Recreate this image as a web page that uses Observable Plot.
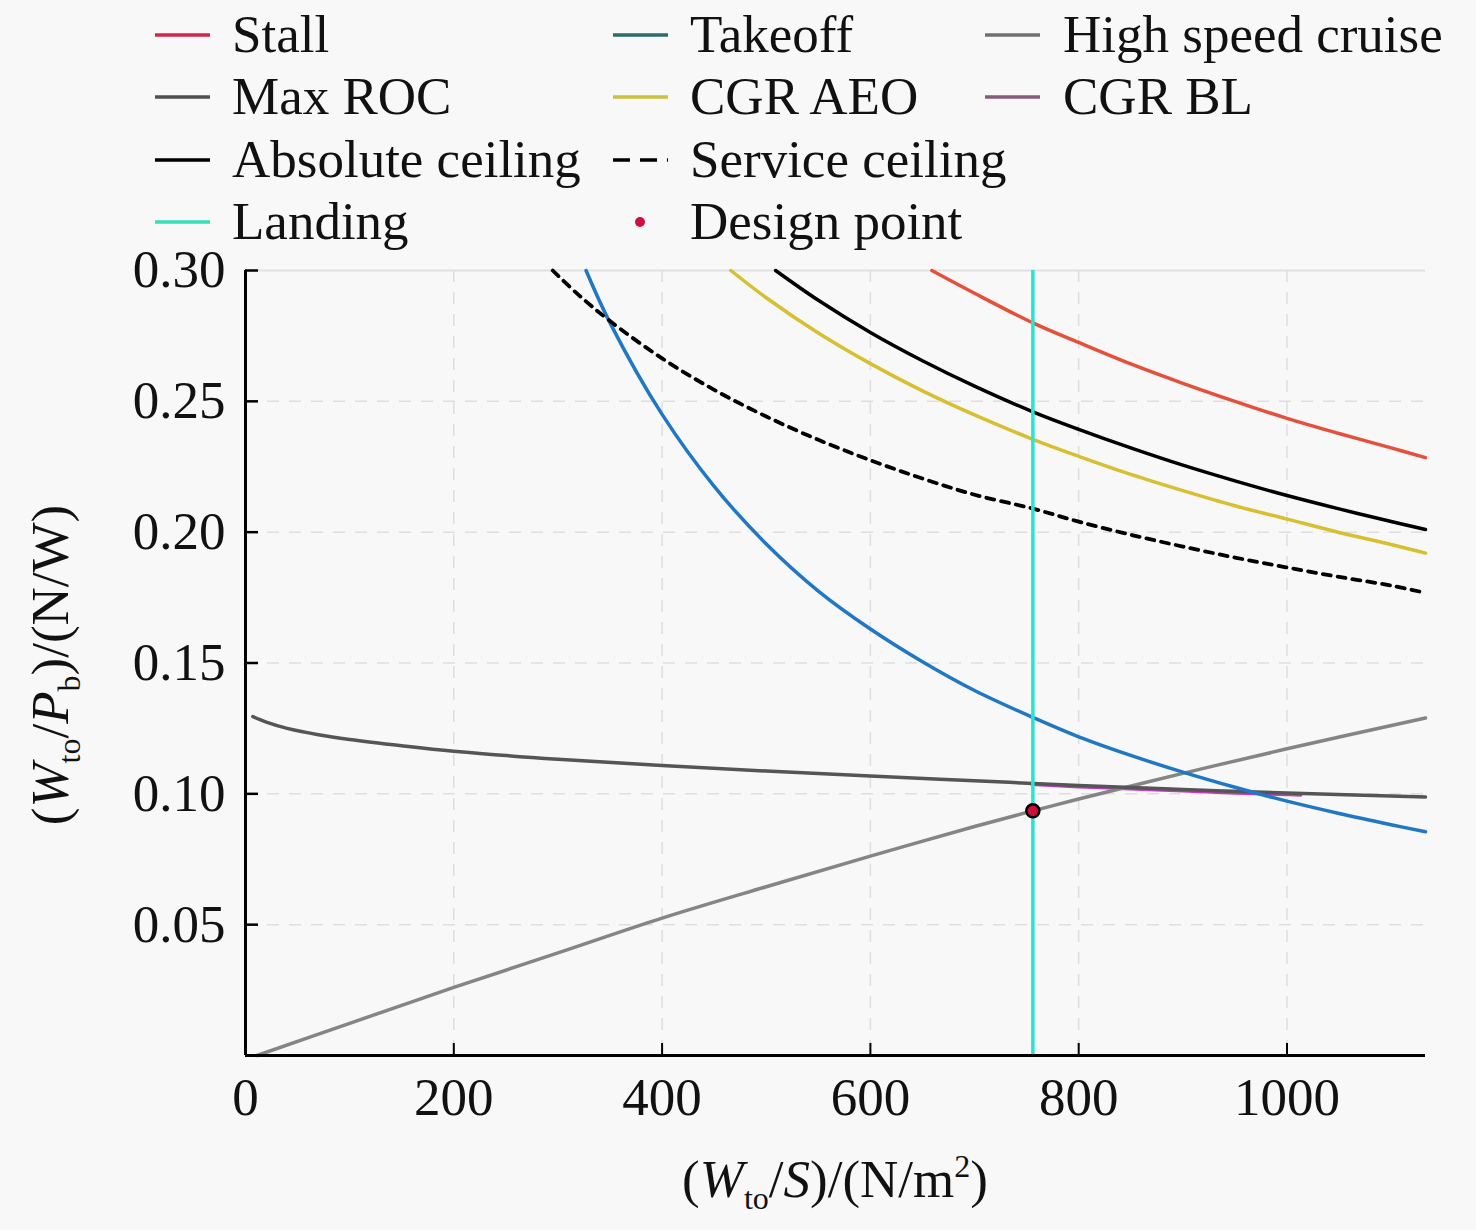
<!DOCTYPE html>
<html><head><meta charset="utf-8">
<script src="https://cdn.jsdelivr.net/npm/d3@7"></script>
<script src="https://cdn.jsdelivr.net/npm/@observablehq/plot@0.6"></script>
<style>
body{margin:0;background:#f8f8f8;width:1476px;height:1230px;overflow:hidden;font-family:"Liberation Serif","Times New Roman",serif;}
#legend{width:1476px;height:230px;display:block;overflow:visible;position:relative;z-index:2;}
#chart{position:relative;z-index:1;}
#chart svg{display:block;overflow:visible;}
</style></head><body>
<svg id="legend" width="1476" height="230"></svg>
<div id="chart"></div>
<script>
// ---- data ----
const xTicks = [0, 200, 400, 600, 800, 1000];
const yTicks = [0.05, 0.10, 0.15, 0.20, 0.25, 0.30];

const stallX = [659, 700, 756, 800, 850, 900, 950, 1000, 1050, 1100, 1133];
const stallY = [0.300, 0.2913, 0.2800, 0.2725, 0.2643, 0.2569, 0.2500, 0.2435, 0.2377, 0.2322, 0.2285];

const takeoffX = [327, 350, 400, 450, 500, 550, 600, 650, 700, 756, 800, 850, 900, 950, 1000, 1050, 1100, 1133];
const takeoffY = [0.300, 0.280, 0.245, 0.2175, 0.1955, 0.1775, 0.1630, 0.1505, 0.1395, 0.1292, 0.1218, 0.1147, 0.1083, 0.1025, 0.0972, 0.0925, 0.0882, 0.0855];

const cruiseX = [11, 100, 200, 300, 400, 500, 600, 700, 756, 800, 900, 1000, 1133];
const cruiseY = [0.000, 0.0123, 0.0260, 0.0392, 0.0525, 0.0645, 0.0762, 0.0875, 0.0935, 0.0980, 0.1078, 0.1172, 0.1290];

const maxRocX = [7, 20, 40, 70, 100, 150, 200, 300, 400, 500, 600, 700, 800, 900, 1000, 1133];
const maxRocY = [0.1295, 0.1274, 0.1250, 0.1226, 0.1208, 0.1184, 0.1163, 0.1132, 0.1108, 0.1087, 0.1068, 0.1050, 0.1032, 0.1017, 0.1003, 0.0988];

const aeoX = [466, 500, 550, 600, 650, 700, 756, 800, 850, 900, 950, 1000, 1050, 1100, 1133];
const aeoY = [0.300, 0.2896, 0.2761, 0.2644, 0.2540, 0.2448, 0.2355, 0.2290, 0.2221, 0.2159, 0.2101, 0.2050, 0.1999, 0.1953, 0.1920];

const cgrBlX = [755, 800, 850, 900, 950, 1000, 1013];
const cgrBlY = [0.1037, 0.1028, 0.1020, 0.1012, 0.1004, 0.0998, 0.0996];

const absX = [509, 550, 600, 650, 700, 756, 800, 850, 900, 950, 1000, 1050, 1100, 1133];
const absY = [0.300, 0.2886, 0.2763, 0.2655, 0.2558, 0.2460, 0.2393, 0.2322, 0.2256, 0.2196, 0.2140, 0.2089, 0.2041, 0.2010];

const svcX = [295, 320, 350, 400, 450, 500, 550, 600, 650, 700, 756, 800, 850, 900, 950, 1000, 1050, 1100, 1133];
const svcY = [0.300, 0.2906, 0.2807, 0.2664, 0.2544, 0.2442, 0.2353, 0.2275, 0.2205, 0.2143, 0.2090, 0.2040, 0.1990, 0.1945, 0.1903, 0.1865, 0.1829, 0.1796, 0.1768];

const landingX = [756];
const designX = [756];
const designY = [0.0935];

// ---- legend ----
const legendItems = [
  {label: "Stall", color: "#d3264c", col: 0, row: 0},
  {label: "Takeoff", color: "#2d6c68", col: 1, row: 0},
  {label: "High speed cruise", color: "#707070", col: 2, row: 0},
  {label: "Max ROC", color: "#505050", col: 0, row: 1},
  {label: "CGR AEO", color: "#c9c23e", col: 1, row: 1},
  {label: "CGR BL", color: "#8a5a78", col: 2, row: 1},
  {label: "Absolute ceiling", color: "#000000", col: 0, row: 2},
  {label: "Service ceiling", color: "#000000", col: 1, row: 2, dash: "17,10"},
  {label: "Landing", color: "#35e0b8", col: 0, row: 3},
  {label: "Design point", color: "#d0103c", col: 1, row: 3, dot: true}
];
const colSample = [155, 613, 985];
const colText = [232, 690, 1063];
const rowY = [35, 97, 160, 222];
const lg = d3.select("#legend");
for (const it of legendItems) {
  const y = rowY[it.row];
  const x0 = colSample[it.col];
  if (it.dot) {
    lg.append("circle").attr("cx", x0 + 27).attr("cy", y).attr("r", 5).attr("fill", it.color);
  } else {
    lg.append("line").attr("x1", x0).attr("x2", x0 + 55).attr("y1", y).attr("y2", y)
      .attr("stroke", it.color).attr("stroke-width", 3.5)
      .attr("stroke-dasharray", it.dash || null);
  }
  lg.append("text").attr("x", colText[it.col]).attr("y", y + 17)
    .attr("font-size", 53).attr("fill", "#111")
    .attr("font-family", '"Liberation Serif","Times New Roman",serif')
    .text(it.label);
}

// ---- chart ----
const toRows = (xs, ys) => xs.map((x, i) => ({x, y: ys[i]}));
const W = 1476, H = 1000, mL = 245, mR = 51, mT = 40, mB = 175;
const innerW = W - mL - mR, innerH = H - mT - mB;

const curve = (xs, ys, color, extra = {}) =>
  Plot.line(toRows(xs, ys), {x: "x", y: "y", stroke: color, strokeWidth: 3.5, curve: "catmull-rom", ...extra});

const plot = Plot.plot({
  width: W, height: H,
  marginLeft: mL, marginRight: mR, marginTop: mT, marginBottom: mB,
  x: {domain: [0, 1133]},
  y: {domain: [0, 0.30]},
  style: {fontFamily: '"Liberation Serif","Times New Roman",serif', fontSize: "53px", background: "transparent", color: "#111", overflow: "visible"},
  marks: [
    Plot.gridX(xTicks.filter(d => d > 0), {stroke: "#dedede", strokeOpacity: 1, strokeWidth: 1.5, strokeDasharray: "12,10"}),
    Plot.gridY(yTicks.filter(d => d < 0.3), {stroke: "#dedede", strokeOpacity: 1, strokeWidth: 1.5, strokeDasharray: "12,10"}),
    Plot.ruleY([0.30], {stroke: "#e0e0e0", strokeWidth: 2}),
    curve(cgrBlX, cgrBlY, "#c23cc0", {strokeWidth: 3.8}),
    curve(cruiseX, cruiseY, "#858585"),
    curve(maxRocX, maxRocY, "#555555"),
    curve(takeoffX, takeoffY, "#2077c4"),
    curve(svcX, svcY, "#000000", {strokeWidth: 3.8, strokeDasharray: "8,7"}),
    curve(aeoX, aeoY, "#d8bf32"),
    curve(absX, absY, "#000000"),
    curve(stallX, stallY, "#e5503c"),
    Plot.ruleX(landingX, {x: d => d, y1: 0, y2: 0.30, stroke: "#28e4d2", strokeWidth: 3.5}),
    Plot.dot(designX.map((x, i) => ({x, y: designY[i]})), {x: "x", y: "y", r: 6.5, fill: "#d0103c", stroke: "#000", strokeWidth: 2.5}),
    Plot.ruleY([0], {stroke: "#000", strokeWidth: 3}),
    Plot.ruleX([0], {stroke: "#000", strokeWidth: 3}),
    Plot.tickX(xTicks.filter(d => d > 0), {x: d => d, stroke: "#000", strokeWidth: 2, insetTop: innerH - 12}),
    Plot.tickY(yTicks, {y: d => d, stroke: "#000", strokeWidth: 2.5, insetRight: innerW - 13}),
    Plot.axisX(xTicks, {tickSize: 0, tickPadding: 22, label: null, tickFormat: d => String(d)}),
    Plot.axisY(yTicks, {tickSize: 0, tickPadding: 20, label: null, tickFormat: d3.format(".2f")})
  ]
});
document.getElementById("chart").appendChild(plot);

// axis titles with italic letters and sub/superscripts
const svg = d3.select(plot);
const fam = '"Liberation Serif","Times New Roman",serif';
const xl = svg.append("text").attr("x", 835).attr("y", 967).attr("text-anchor", "middle")
  .attr("font-size", 53).attr("font-family", fam).attr("fill", "#111");
xl.append("tspan").text("(");
xl.append("tspan").attr("font-style", "italic").text("W");
xl.append("tspan").attr("font-size", 32).attr("dy", 12).text("to");
xl.append("tspan").attr("dy", -12).text("/");
xl.append("tspan").attr("font-style", "italic").text("S");
xl.append("tspan").text(")/(N/m");
xl.append("tspan").attr("font-size", 32).attr("dy", -20).text("2");
xl.append("tspan").attr("dy", 20).text(")");

const yl = svg.append("text").attr("transform", "translate(68,435) rotate(-90)").attr("text-anchor", "middle")
  .attr("font-size", 53).attr("font-family", fam).attr("fill", "#111");
yl.append("tspan").text("(");
yl.append("tspan").attr("font-style", "italic").text("W");
yl.append("tspan").attr("font-size", 32).attr("dy", 12).text("to");
yl.append("tspan").attr("dy", -12).text("/");
yl.append("tspan").attr("font-style", "italic").text("P");
yl.append("tspan").attr("font-size", 32).attr("dy", 12).text("b");
yl.append("tspan").attr("dy", -12).text(")/(N/W)");
</script>
</body></html>
